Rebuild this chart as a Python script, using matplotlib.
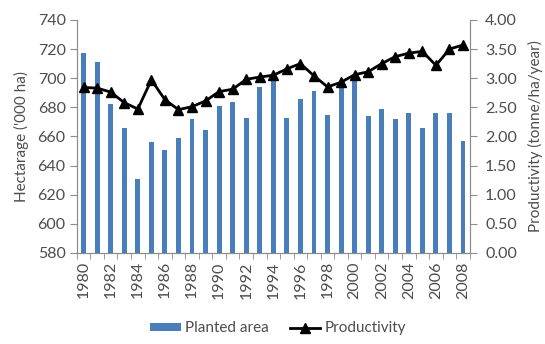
import matplotlib.pyplot as plt
import numpy as np

years = list(range(1980, 2009))
planted_area = [717.5, 711.4, 682, 666, 631, 656, 650.6, 659, 671.7, 664.6,
                681, 683.8, 672.8, 693.6, 700, 672.8, 685.6, 691.5, 674.4, 693,
                699.3, 674, 678.7, 672, 676, 666, 675.8, 675.8, 656.6]
productivity = [2.84, 2.83, 2.76, 2.58, 2.47, 2.97, 2.63, 2.46, 2.51, 2.61,
                2.77, 2.81, 2.98, 3.02, 3.05, 3.16, 3.25, 3.04, 2.85, 2.93,
                3.06, 3.11, 3.25, 3.37, 3.43, 3.46, 3.22, 3.50, 3.57]

plt.rcParams['font.family'] = ['Lato', 'DejaVu Sans']
text_color = '#4d4d4d'
axis_color = '#8c8c8c'

fig = plt.figure(figsize=(5.45, 3.44), dpi=100)
ax1 = fig.add_axes([0.141, 0.265, 0.721, 0.677])
ax2 = ax1.twinx()

x = np.arange(len(years))
bars = ax1.bar(x, planted_area, width=0.36, color='#4a7ebb', zorder=2,
               label='Planted area')
ax1.set_ylim(580, 740)
ax1.set_yticks(range(580, 741, 20))
ax1.set_xlim(-0.5, len(years) - 0.5)
ax1.set_xticks(x[::2])
ax1.set_xticklabels([str(y) for y in years[::2]], rotation=90)
ax1.set_xticks(np.arange(-0.5, len(years), 1), minor=True)
ax1.tick_params(axis='x', which='major', length=0, pad=6)
ax1.tick_params(axis='x', which='minor', length=4, color=axis_color)
ax1.tick_params(axis='y', length=5, color=axis_color, pad=3)
ax1.set_ylabel("Hectarage ('000 ha)", color=text_color, fontsize=11,
               labelpad=6)

line, = ax2.plot(x, productivity, color='black', lw=2, marker='^',
                 markersize=7.5, label='Productivity', zorder=3)
ax2.set_ylim(0, 4)
ax2.set_yticks(np.arange(0, 4.01, 0.5))
ax2.set_yticklabels([f'{v:.2f}' for v in np.arange(0, 4.01, 0.5)])
ax2.tick_params(axis='y', length=5, color=axis_color, pad=6)
ax2.set_ylabel('Productivity (tonne/ha/year)', color=text_color, fontsize=11,
               labelpad=8)

for ax in (ax1, ax2):
    ax.spines['top'].set_visible(False)
    for side in ('left', 'right', 'bottom'):
        ax.spines[side].set_color(axis_color)
    ax.tick_params(labelcolor=text_color, labelsize=11.5)
ax1.set_zorder(ax2.get_zorder() - 1)
ax2.patch.set_visible(False)

fig.legend([bars, line], ['Planted area', 'Productivity'], loc='lower center',
           bbox_to_anchor=(0.51, -0.015), ncol=2, frameon=False, fontsize=11,
           labelcolor=text_color, handlelength=2.0, handleheight=0.45,
           columnspacing=1.4, handletextpad=0.25)

fig.savefig('out.png', dpi=100)
